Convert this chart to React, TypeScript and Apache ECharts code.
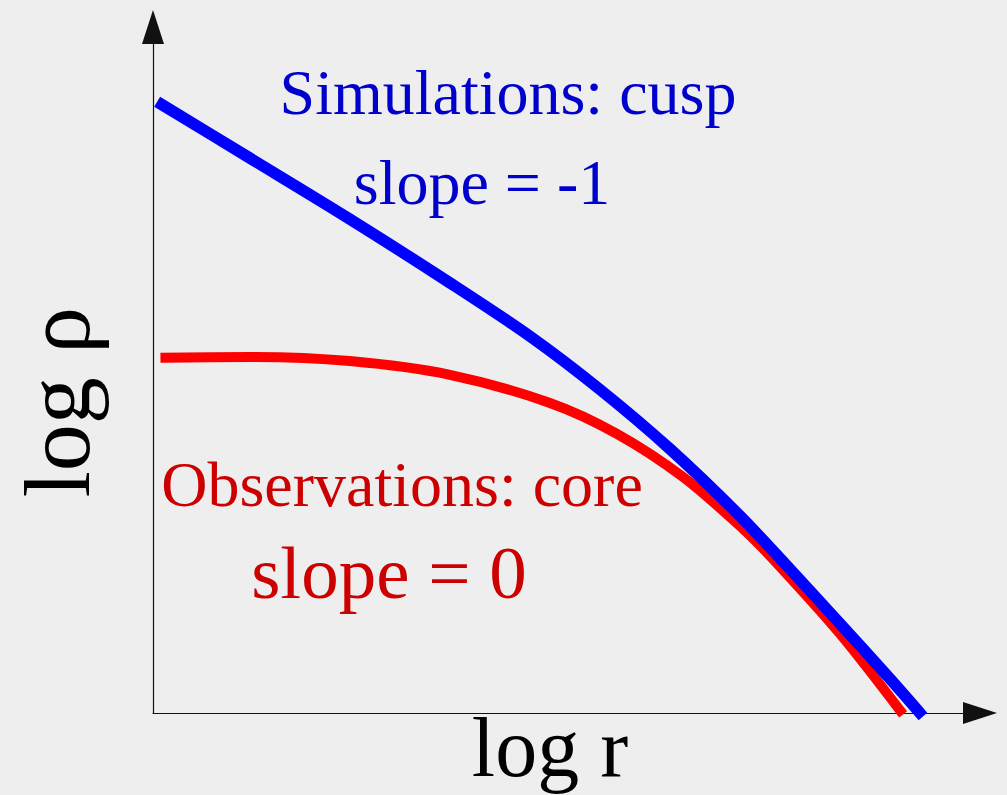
import React, { useEffect, useRef } from "react";
import * as echarts from "echarts";

// log r (arbitrary units, 0..10) and log rho (arbitrary units, 0..10)
const cuspX = [0.05, 1.17, 2.38, 3.59, 4.56, 5.41, 6.25, 7.10, 7.70, 8.31, 8.91, 9.31];
const cuspY = [8.91, 8.09, 7.20, 6.27, 5.49, 4.71, 3.85, 2.87, 2.10, 1.30, 0.50, -0.05];

const coreX = [0.09, 1.17, 2.38, 3.59, 4.80, 5.61, 6.41, 7.13, 7.50, 8.31, 9.07];
const coreY = [5.18, 5.19, 5.13, 4.93, 4.52, 4.07, 3.44, 2.69, 2.24, 1.15, -0.02];

const xAxisTitle = "log r";
const yAxisTitle = "log ρ";
const cuspLabel = ["Simulations: cusp", "slope = -1"];
const coreLabel = ["Observations: core", "slope = 0"];

const FONT = "'Liberation Serif', 'Times New Roman', serif";

export default function App() {
  const ref = useRef<HTMLDivElement>(null);

  useEffect(() => {
    document.body.style.margin = "0";
    const chart = echarts.init(ref.current!, undefined, { renderer: "svg" });
    const axisLine = {
      show: true,
      symbol: ["none", "triangle"],
      symbolSize: [22, 34],
      lineStyle: { color: "#111", width: 1.2 },
    };
    chart.setOption({
      animation: false,
      backgroundColor: "#eeeeee",
      grid: { left: 153, right: 27, top: 27, bottom: 82 },
      xAxis: {
        type: "value",
        min: 0,
        max: 10,
        axisLine,
        axisTick: { show: false },
        axisLabel: { show: false },
        splitLine: { show: false },
      },
      yAxis: {
        type: "value",
        min: 0,
        max: 10,
        axisLine,
        axisTick: { show: false },
        axisLabel: { show: false },
        splitLine: { show: false },
      },
      series: [
        {
          name: "core",
          type: "line",
          data: coreX.map((x, i) => [x, coreY[i]]),
          smooth: 0.3,
          symbol: "none",
          clip: false,
          lineStyle: { color: "#ff0000", width: 10, cap: "butt" },
          z: 2,
        },
        {
          name: "cusp",
          type: "line",
          data: cuspX.map((x, i) => [x, cuspY[i]]),
          smooth: 0.3,
          symbol: "none",
          clip: false,
          lineStyle: { color: "#0000ff", width: 11.5, cap: "butt" },
          z: 3,
        },
      ],
      graphic: [
        {
          type: "text",
          x: 508,
          y: 92,
          style: { text: cuspLabel[0], font: `64px ${FONT}`, fill: "#0000cc", align: "center", verticalAlign: "middle" },
        },
        {
          type: "text",
          x: 482,
          y: 182,
          style: { text: cuspLabel[1], font: `64px ${FONT}`, fill: "#0000cc", align: "center", verticalAlign: "middle" },
        },
        {
          type: "text",
          x: 402,
          y: 484,
          style: { text: coreLabel[0], font: `64px ${FONT}`, fill: "#cc0000", align: "center", verticalAlign: "middle" },
        },
        {
          type: "text",
          x: 389,
          y: 572,
          style: { text: coreLabel[1], font: `75px ${FONT}`, fill: "#cc0000", align: "center", verticalAlign: "middle" },
        },
        {
          type: "text",
          x: 550,
          y: 747,
          style: { text: xAxisTitle, font: `84px ${FONT}`, fill: "#000", align: "center", verticalAlign: "middle" },
        },
        {
          type: "text",
          x: 57,
          y: 402,
          rotation: Math.PI / 2,
          style: { text: yAxisTitle, font: `94px ${FONT}`, fill: "#000", align: "center", verticalAlign: "middle" },
        },
      ],
    });
    return () => chart.dispose();
  }, []);

  return <div ref={ref} style={{ position: "fixed", left: 0, top: 0, width: 1007, height: 795 }} />;
}
